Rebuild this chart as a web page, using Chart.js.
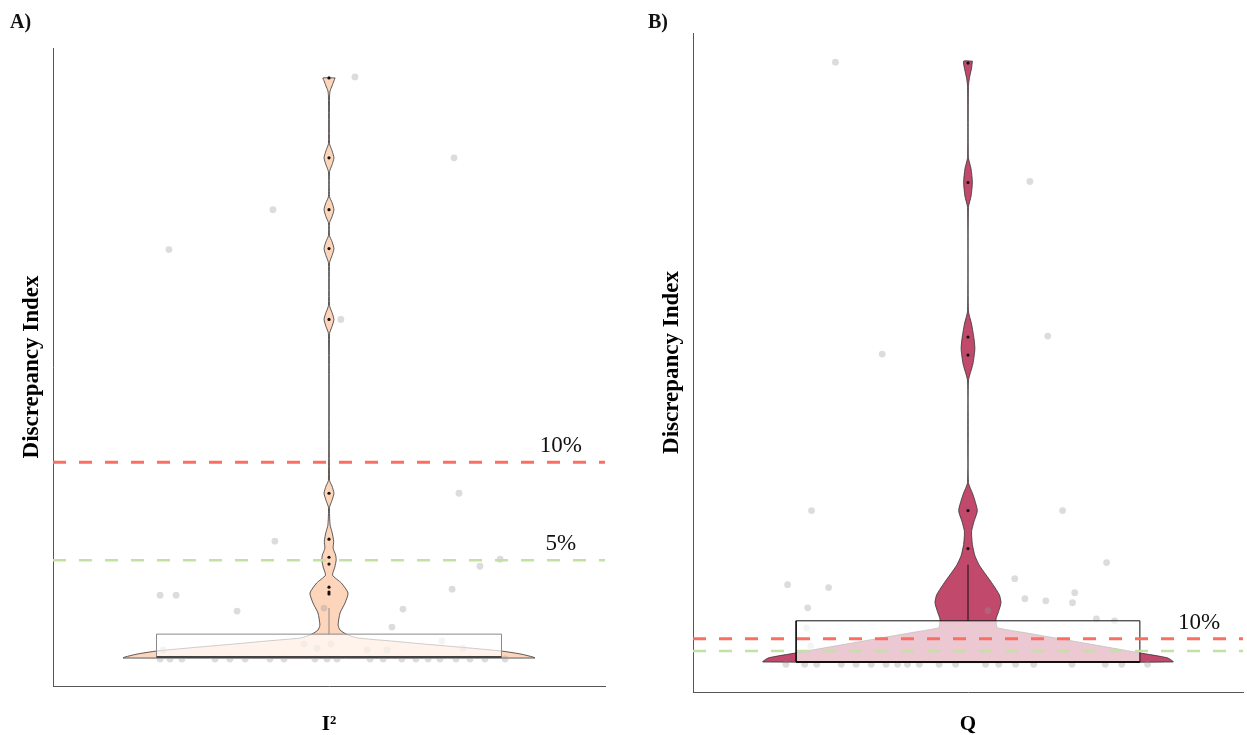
<!DOCTYPE html>
<html>
<head>
<meta charset="utf-8">
<script src="https://cdn.jsdelivr.net/npm/chart.js@4.4.0/dist/chart.umd.min.js"></script>
<style>
  body { margin: 0; background: #fff; }
  canvas { position: absolute; top: 0; }
</style>
</head>
<body>
<canvas id="chartA" width="640" height="735" style="left:0px"></canvas>
<canvas id="chartB" width="607" height="735" style="left:640px"></canvas>
<script>
// panel A : I2 discrepancy index
const violinAY = [29.64, 29.49, 29.23, 28.98, 28.72, 26.28, 25.92, 25.56, 25.20, 24.85, 23.57, 23.27, 22.91, 22.55, 22.24,
  21.58, 21.28, 20.92, 20.56, 20.20, 18.01, 17.65, 17.30, 16.94, 16.58, 9.08, 8.78, 8.42, 8.06, 7.70, 6.79, 6.43, 5.97,
  5.61, 5.26, 5.00, 4.64, 4.23, 3.83, 3.32, 2.81, 2.30, 1.68, 1.43, 1.22, 1.12, 1.02, 0.87, 0.71, 0.56, 0.36, 0.20, 0.05, 0.00];
const violinAW = [2.2, 1.8, 1.1, 0.4, 0.2, 0.2, 1.1, 1.8, 1.1, 0.2, 0.2, 1.1, 1.8, 1.1, 0.2,
  0.2, 1.1, 1.8, 1.1, 0.2, 0.2, 1.1, 1.8, 1.1, 0.2, 0.2, 1.1, 1.8, 1.1, 0.2, 0.4, 1.1, 1.7,
  1.5, 2.4, 2.6, 2.1, 1.3, 4.5, 6.9, 5.8, 4.0, 3.3, 4.0, 6.2, 8.0, 10.5, 22.5, 34.8, 47.1, 62.3, 69.6, 73.9, 74.6];
const jitterAX = [9.4, 45.3, -20.3, -58.0, 4.3, 47.1, -19.6, 62.0, 54.7, 44.6, -61.2, -55.4, -33.3, 26.8, 22.8, 40.9,
  -1.8, 48.5, -60.1, -9.1, -4.3, 0.7, 13.8, 21.0,
  -61.2, -57.6, -53.3, -41.3, -35.9, -30.4, -21.4, -16.3, -5.1, -0.7, 2.9, 14.9, 19.6, 26.4, 31.5, 35.9, 40.2, 46.0, 51.1, 56.5, 63.8];
const jitterAY = [29.69, 25.56, 22.91, 20.87, 17.30, 8.42, 5.97, 5.05, 4.69, 3.52, 3.21, 3.21, 2.40, 2.50, 1.58, 0.87,
  2.55, 0.51, 0.41, 0.71, 0.51, 0.71, 0.41, 0.41,
  -0.05, -0.05, -0.05, -0.05, -0.05, -0.05, -0.05, -0.05, -0.05, -0.05, -0.05, -0.05, -0.05, -0.05, -0.05, -0.05, -0.05, -0.05, -0.05, -0.05, -0.05];
const outlierAY = [29.64, 25.56, 22.91, 20.92, 17.30, 8.42, 6.07, 5.15, 4.80, 3.62, 3.37, 3.27];
const boxA = [0.05, 0.05, 1.22, 2.55]; // q1, median, q3, upper whisker
const thresholdA = [10, 5];
const thresholdLabelsA = ['10%', '5%'];

// panel B : Q discrepancy index
const violinBY = [250.0, 247.1, 242.9, 239.2, 210.0, 205.4, 199.6, 193.8, 189.2, 146.3, 140.8, 134.6, 130.4, 124.2, 117.1,
  75.0, 70.0, 63.3, 58.8, 54.6, 49.2, 44.6, 40.8, 36.7, 32.5, 28.3, 25.0, 21.3, 18.3, 16.3, 14.6, 12.5, 9.6, 6.7, 4.2, 2.1, 0.4];
const violinBW = [1.6, 1.3, 0.5, 0.15, 0.15, 1.1, 1.6, 1.1, 0.15, 0.15, 1.3, 2.2, 2.5, 1.8, 0.15,
  0.15, 1.8, 3.4, 2.2, 1.3, 1.6, 2.5, 4.0, 6.5, 9.1, 11.4, 12.0, 11.1, 10.2, 10.3, 10.7, 21.0, 35.5, 50.0, 62.3, 72.5, 74.6];
const jitterBX = [-48.2, 22.5, -31.2, 29.0, -56.9, 34.4, 50.4, -65.6, -50.7, -58.3, 17.0, 20.7, 28.3, 38.8, 38.0, 46.7,
  53.3, 7.2, -58.7, -57.2,
  -66.2, -59.4, -55.0, -46.1, -40.7, -35.2, -29.8, -25.6, -22.0, -17.7, -10.5, -4.5, 6.4, 11.2, 17.3, 23.9, 37.8, 49.9, 55.9, 65.3];
const jitterBY = [249.6, 200.0, 128.3, 135.8, 63.3, 63.3, 41.7, 32.5, 31.3, 22.9, 35.0, 26.7, 25.8, 29.2, 25.0, 18.3,
  17.5, 21.7, 14.6, 7.1,
  -0.6, -0.6, -0.6, -0.6, -0.6, -0.6, -0.6, -0.6, -0.6, -0.6, -0.6, -0.6, -0.6, -0.6, -0.6, -0.6, -0.6, -0.6, -0.6, -0.6];
const outlierBY = [249.2, 199.6, 135.4, 127.9, 63.3, 47.5];
const boxB = [0.4, 0.4, 17.5, 40.8];
const thresholdB = [10, 5];
const thresholdLabelsB = ['10%'];

const thresholdColors = ['#fa6e64', '#c5e0a5'];
const boxHalf = 62.5;

Chart.defaults.font.family = '"Liberation Serif", "Times New Roman", serif';

let violinPoints = (ys, ws) => {
    let pts = [];
    for (let i = 0; i < ys.length; i++) pts.push({ x: ws[i], y: ys[i] });
    for (let i = ys.length - 1; i >= 0; i--) pts.push({ x: -ws[i], y: ys[i] });
    pts.push({ x: ws[0], y: ys[0] });
    return pts;
}

let boxPoints = (stats) => [
    { x: -boxHalf, y: stats[0] }, { x: boxHalf, y: stats[0] },
    { x: boxHalf, y: stats[2] }, { x: -boxHalf, y: stats[2] }, { x: -boxHalf, y: stats[0] }
];

// writes the 10% / 5% labels and the panel letter
const labelPlugin = {
    id: 'panelText',
    afterDatasetsDraw(chart, args, opts) {
        const ctx = chart.ctx;
        const xs = chart.scales.x;
        const ys = chart.scales.y;
        ctx.save();
        ctx.fillStyle = '#111';
        ctx.font = '23px "Liberation Serif"';
        ctx.textAlign = 'center';
        ctx.textBaseline = 'alphabetic';
        opts.labels.forEach((t, i) => {
            ctx.fillText(t, xs.getPixelForValue(84), ys.getPixelForValue(opts.values[i]) - 10);
        });
        ctx.font = 'bold 20px "Liberation Serif"';
        ctx.textAlign = 'left';
        ctx.fillText(opts.letter, opts.letterX, 28);
        ctx.restore();
    }
};

let makePanel = (id, p) => {
    let datasets = [{
        data: violinPoints(p.vy, p.vw), showLine: true, fill: 'shape',
        backgroundColor: p.color, borderColor: '#333', borderWidth: 0.8,
        pointRadius: 0, tension: 0.2, order: 7
    }, {
        data: p.jx.map((x, i) => ({ x: x, y: p.jy[i] })),
        backgroundColor: 'rgba(150,150,150,0.33)', borderWidth: 0, pointRadius: 3.4, order: 6
    }, {
        data: boxPoints(p.box), showLine: true, fill: 'shape',
        backgroundColor: 'rgba(255,255,255,0.7)', borderColor: p.boxLine, borderWidth: 1,
        pointRadius: 0, order: 5
    }, {
        data: [{ x: -boxHalf, y: p.box[1] }, { x: boxHalf, y: p.box[1] }], showLine: true,
        borderColor: p.medianLine, borderWidth: 2, pointRadius: 0, order: 4
    }, {
        data: [{ x: 0, y: p.box[2] }, { x: 0, y: p.box[3] }], showLine: true,
        borderColor: p.boxLine, borderWidth: 1, pointRadius: 0, order: 3
    }];
    p.thresholds.forEach((v, i) => {
        datasets.push({
            data: [{ x: -100, y: v }, { x: 100, y: v }], showLine: true,
            borderColor: thresholdColors[i], borderWidth: i == 0 ? 3 : 2.5, borderDash: [13, 13],
            pointRadius: 0, order: 2
        });
    });
    datasets.push({
        data: p.outliers.map(y => ({ x: 0, y: y })),
        backgroundColor: '#111', borderWidth: 0, pointRadius: 1.6, order: 1
    });

    return new Chart(document.getElementById(id), {
        type: 'scatter',
        data: { datasets: datasets },
        options: {
            responsive: false,
            animation: false,
            events: [],
            layout: { padding: p.padding },
            plugins: {
                legend: { display: false },
                tooltip: { enabled: false },
                panelText: { labels: p.labels, values: p.thresholds, letter: p.letter, letterX: p.letterX }
            },
            scales: {
                x: {
                    type: 'linear', min: -100, max: 100,
                    ticks: { display: false },
                    grid: { display: false, drawTicks: false },
                    border: { display: true, color: '#555', width: 1 },
                    title: {
                        display: true, text: p.xTitle, color: '#000',
                        font: { size: 21, weight: 'bold', lineHeight: 1 },
                        padding: { top: p.xTitlePad, bottom: 0 }
                    }
                },
                y: {
                    type: 'linear', min: p.yMin, max: p.yMax,
                    ticks: { display: false },
                    grid: { display: false, drawTicks: false },
                    border: { display: true, color: '#555', width: 1 },
                    title: {
                        display: true, text: 'Discrepancy Index', color: '#000',
                        font: { size: 23, weight: 'bold', lineHeight: 1 },
                        padding: { top: 20.5, bottom: 9.5 }
                    }
                }
            }
        },
        plugins: [labelPlugin]
    });
}

makePanel('chartA', {
    vy: violinAY, vw: violinAW, jx: jitterAX, jy: jitterAY, outliers: outlierAY, box: boxA,
    thresholds: thresholdA, labels: thresholdLabelsA,
    color: '#fdd5bb', boxLine: '#8a8a8a', medianLine: '#444',
    xTitle: 'I²', xTitlePad: 28, yMin: -1.43, yMax: 31.17,
    padding: { left: 0, right: 35, top: 48, bottom: 0 },
    letter: 'A)', letterX: 10
});

makePanel('chartB', {
    vy: violinBY, vw: violinBW, jx: jitterBX, jy: jitterBY, outliers: outlierBY, box: boxB,
    thresholds: thresholdB, labels: thresholdLabelsB,
    color: '#c0496c', boxLine: '#111', medianLine: '#111',
    xTitle: 'Q', xTitlePad: 22, yMin: -12.08, yMax: 261.7,
    padding: { left: 0, right: 2, top: 33, bottom: 0 },
    letter: 'B)', letterX: 8
});
</script>
</body>
</html>
